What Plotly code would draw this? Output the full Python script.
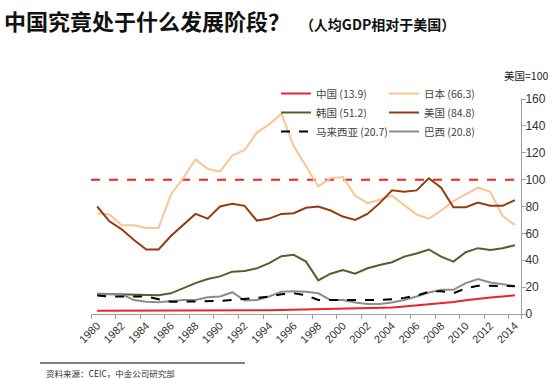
import plotly.graph_objects as go

years = [str(y) for y in range(1980, 2015)]
tick_years = [str(y) for y in range(1980, 2015, 2)]

china = [2.5, 2.5, 2.4, 2.4, 2.5, 2.7, 2.7, 2.6, 2.7, 2.5, 2.3, 2.3, 2.5, 2.7, 2.8,
         3.0, 3.2, 3.4, 3.5, 3.6, 3.7, 3.9, 4.1, 4.4, 4.8, 5.5, 6.3, 7.3, 8.1, 9.0,
         10.3, 11.5, 12.3, 13.1, 13.9]
japan = [75, 74, 66, 66, 64, 64, 89, 101, 115, 108, 106, 118, 122, 135, 141,
         149, 125, 110, 95, 101, 102, 88, 82.5, 85, 88, 81, 74, 71, 77, 84,
         89, 94, 91, 73, 66.3]
korea = [15, 14.8, 14.7, 14.5, 14.2, 14, 15.4, 19, 23, 26, 28, 31.5, 32, 34, 37.8,
         43, 44, 39, 25, 30, 32.8, 30, 34, 36.5, 38.5, 42.7, 45, 48, 42.7, 39,
         46, 49, 47.7, 49, 51.2]
usa = [80, 69, 63, 55, 48, 48, 58, 66, 74.5, 71, 80, 82, 80.5, 69.5, 71,
       74.5, 75, 79, 80, 77, 72.5, 70, 74.5, 82.5, 92, 91, 92, 101, 94, 79.5,
       79.5, 83, 80.5, 80.5, 84.8]
malaysia = [13.7, 13, 13, 13, 13, 11, 9.2, 9.2, 9.2, 9.5, 9.7, 10.4, 11, 12, 13,
            14.7, 15.4, 14, 10.4, 10.4, 10.4, 10, 10.4, 10.4, 11, 12, 13.7, 16.6, 17, 15.5,
            19, 21, 21, 21, 20.7]
brazil = [14.7, 14.7, 14.7, 10.4, 9.2, 8.8, 9.7, 10.4, 10.4, 12.4, 13, 16.2, 10, 10.4, 13,
          16.6, 17, 16.6, 15.4, 10.4, 10.4, 8.5, 7.5, 7.5, 8.5, 10.4, 13, 16, 18, 18,
          23, 26, 23.4, 22, 20.8]

us_level = 100
y_ticks = [0, 20, 40, 60, 80, 100, 120, 140, 160]

series = [
    ("中国 (13.9)", china, "#E8262A", "solid", "legend"),
    ("韩国 (51.2)", korea, "#4F6228", "solid", "legend"),
    ("马来西亚 (20.7)", malaysia, "#000000", "dash", "legend"),
    ("日本 (66.3)", japan, "#FAC494", "solid", "legend2"),
    ("美国 (84.8)", usa, "#953B12", "solid", "legend2"),
    ("巴西 (20.8)", brazil, "#8C8C8C", "solid", "legend2"),
]

fig = go.Figure()
draw_order = [3, 4, 1, 5, 2, 0]
for i in draw_order:
    name, vals, color, dash, leg = series[i]
    fig.add_trace(go.Scatter(
        x=years, y=vals, name=name, mode="lines",
        line=dict(color=color, width=2, dash=dash),
        legend=leg, legendrank=i,
    ))

fig.add_shape(type="line", xref="paper", x0=0, x1=1, yref="y", y0=us_level, y1=us_level,
              line=dict(color="#FF1E1E", width=2, dash="dash"), layer="below")

font_cjk = "Noto Sans CJK SC, Noto Sans, sans-serif"
W, H = 559, 379

legend_common = dict(xref="container", yref="container", xanchor="left", yanchor="top",
                     font=dict(size=10.5, color="#444444"), bgcolor="rgba(0,0,0,0)",
                     itemwidth=30, tracegroupgap=0)

fig.update_layout(
    width=W, height=H,
    margin=dict(l=91, r=38, t=99, b=65, autoexpand=False),
    paper_bgcolor="white", plot_bgcolor="white",
    font=dict(family=font_cjk, color="#333333"),
    showlegend=True,
    legend=dict(x=276 / W, y=1 - 79 / H, **legend_common),
    legend2=dict(x=384 / W, y=1 - 79 / H, **legend_common),
    xaxis=dict(type="category", tickmode="array", tickvals=tick_years, ticktext=tick_years,
               tickson="boundaries", ticks="outside", ticklen=4, tickcolor="#A0A0A0",
               tickangle=-45, tickfont=dict(size=11, color="#333333", family="Liberation Sans, Arial"),
               showline=True, linecolor="#A0A0A0", linewidth=1, showgrid=False,
               range=[-0.5, len(years) - 0.5], zeroline=False, automargin=False),
    yaxis=dict(side="right", range=[0, 160], tickvals=y_ticks, ticks="outside", ticklen=4,
               tickcolor="#A0A0A0", showline=True, linecolor="#A0A0A0", linewidth=1,
               showgrid=False, zeroline=False, automargin=False, ticklabelstandoff=-3,
               tickfont=dict(size=12, color="#333333", family="Liberation Sans, Arial")),
)

fig.add_annotation(xref="paper", yref="paper", x=0, y=1, xanchor="left", yanchor="top",
                   xshift=-89, yshift=97,
                   text="<b>中国究竟处于什么发展阶段？</b>  <b><span style='font-size:14px'>（人均GDP相对于美国）</span></b>",
                   showarrow=False, font=dict(size=22, color="#111111", family=font_cjk))
fig.add_annotation(xref="paper", yref="paper", x=1, y=1, xanchor="right", yanchor="bottom",
                   xshift=29, yshift=14, text="美国=100", showarrow=False,
                   font=dict(size=10.5, color="#222222", family=font_cjk))
fig.add_annotation(xref="paper", yref="paper", x=0, y=0, xanchor="left", yanchor="top",
                   xshift=-47, yshift=-51, text="资料来源：CEIC，中金公司研究部", showarrow=False,
                   font=dict(size=8.5, color="#333333", family=font_cjk))
fig.add_shape(type="line", xref="paper", yref="paper", x0=-51 / 430, x1=154 / 430,
              y0=-49 / 215, y1=-49 / 215, line=dict(color="#808080", width=2))

fig.write_html("out.html", config={"displayModeBar": False},
               post_script="document.body.style.margin='0';document.body.style.overflow='hidden';")
